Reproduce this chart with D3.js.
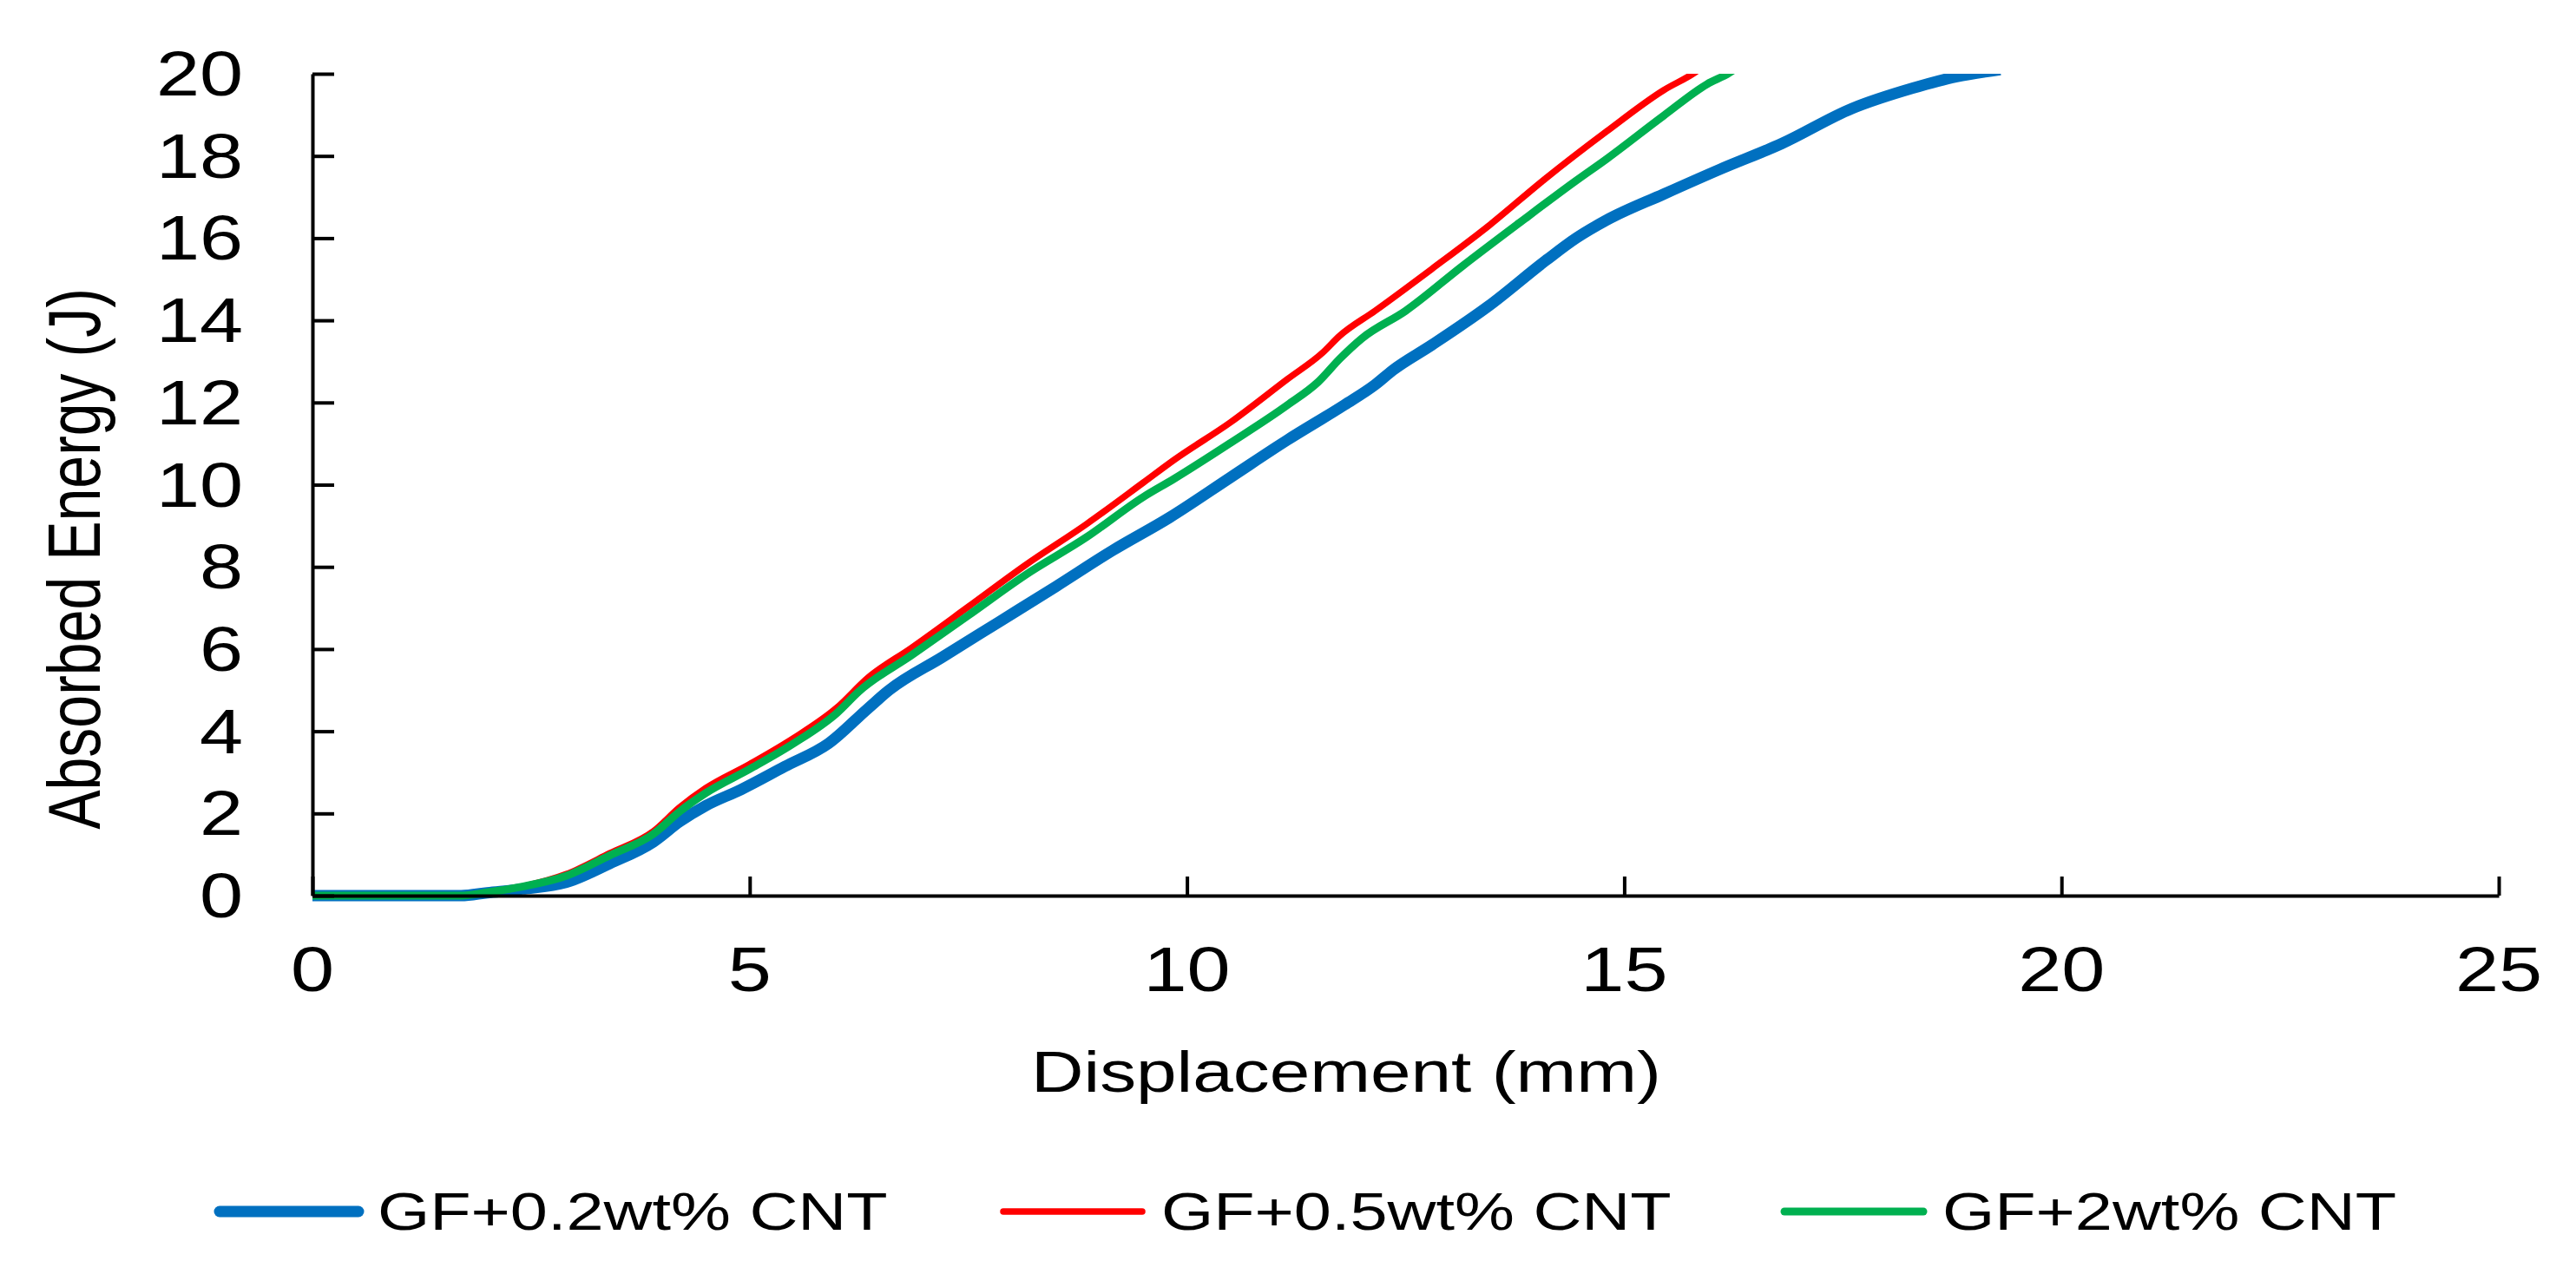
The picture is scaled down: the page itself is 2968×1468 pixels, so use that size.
<!DOCTYPE html>
<html>
<head>
<meta charset="utf-8">
<script src="https://cdn.jsdelivr.net/npm/d3@7"></script>
<style>
  body { margin: 0; background: #fff; }
  text { font-family: "Liberation Sans", Arial, sans-serif; fill: #000; }
</style>
</head>
<body>
<svg id="chart" width="2968" height="1468"></svg>
<script>
// tick values
const xTicks = [0, 5, 10, 15, 20, 25];
const yTicks = [0, 2, 4, 6, 8, 10, 12, 14, 16, 18, 20];

// series names / colours
const seriesNames = ["GF+0.2wt% CNT", "GF+0.5wt% CNT", "GF+2wt% CNT"];
const seriesColors = ["#0070C0", "#FF0000", "#00B050"];

// GF+0.2wt% CNT
const disp02 = [0, 1.7, 2.0, 2.4, 2.9, 3.4, 3.9, 4.2, 4.5, 4.9, 5.4, 5.9, 6.35, 6.6, 7.2, 7.85, 8.5, 9.15, 9.8, 10.5, 11.15, 11.8, 12.15, 12.35, 12.8, 13.45, 14.1, 14.45, 14.8, 15.45, 16.1, 16.8, 17.6, 18.3, 18.8, 19.3];
const energy02 = [0, 0, 0.07, 0.16, 0.32, 0.78, 1.31, 1.8, 2.19, 2.58, 3.14, 3.7, 4.55, 5.01, 5.8, 6.66, 7.52, 8.4, 9.2, 10.18, 11.09, 11.94, 12.43, 12.78, 13.4, 14.35, 15.45, 16.0, 16.44, 17.07, 17.68, 18.3, 19.15, 19.65, 19.93, 20.1];

// GF+0.5wt% CNT
const disp05 = [0, 1.7, 2.0, 2.4, 2.9, 3.4, 3.9, 4.2, 4.5, 5.0, 5.5, 6.0, 6.35, 6.85, 7.5, 8.15, 8.85, 9.5, 9.85, 10.5, 11.15, 11.55, 11.75, 12.15, 12.8, 13.45, 14.1, 14.8, 15.45, 15.8, 15.95];
const energy05 = [0, 0, 0.08, 0.22, 0.52, 1.03, 1.57, 2.15, 2.62, 3.2, 3.83, 4.58, 5.3, 6.03, 7.03, 8.04, 9.04, 10.05, 10.6, 11.52, 12.57, 13.21, 13.63, 14.23, 15.25, 16.3, 17.45, 18.6, 19.6, 20.02, 20.25];

// GF+2wt% CNT
const disp2 = [0, 1.7, 2.0, 2.4, 2.9, 3.4, 3.9, 4.2, 4.5, 5.0, 5.5, 6.0, 6.25, 6.85, 7.5, 8.15, 8.85, 9.5, 9.85, 10.5, 11.15, 11.5, 11.75, 12.0, 12.5, 13.15, 13.8, 14.45, 14.8, 15.45, 15.95, 16.2, 16.35];
const energy2 = [0, 0, 0.08, 0.22, 0.48, 0.98, 1.5, 2.05, 2.5, 3.08, 3.7, 4.45, 4.97, 5.85, 6.82, 7.8, 8.72, 9.7, 10.14, 11.02, 11.94, 12.5, 13.07, 13.56, 14.23, 15.32, 16.37, 17.4, 17.93, 18.98, 19.75, 20.02, 20.25];

const lineWidths = [13, 7.5, 9];
const stretch = 1.25; // text in the picture is a bit wider than plain Arial

const svg = d3.select("#chart");
const plot = { left: 360, right: 2879, top: 85, bottom: 1032 };

const x = d3.scaleLinear().domain([0, 25]).range([plot.left, plot.right]);
const y = d3.scaleLinear().domain([0, 20]).range([plot.bottom, plot.top]);

const series = [
  d3.zip(disp02, energy02),
  d3.zip(disp05, energy05),
  d3.zip(disp2, energy2)
];

svg.append("defs").append("clipPath").attr("id", "clip")
  .append("rect")
  .attr("x", plot.left).attr("y", plot.top)
  .attr("width", plot.right - plot.left + 20)
  .attr("height", plot.bottom - plot.top + 40);

const line = d3.line()
  .x(d => x(d[0]))
  .y(d => y(d[1]))
  .curve(d3.curveMonotoneX);

svg.append("g").attr("clip-path", "url(#clip)")
  .selectAll("path")
  .data(series)
  .join("path")
  .attr("d", line)
  .attr("fill", "none")
  .attr("stroke", (d, i) => seriesColors[i])
  .attr("stroke-width", (d, i) => lineWidths[i])
  .attr("stroke-linejoin", "round");

// axes
const yAxis = svg.append("g")
  .attr("transform", `translate(${plot.left},0)`)
  .call(d3.axisRight(y).tickValues(yTicks).tickSize(25).tickSizeOuter(0).tickFormat(""));
const xAxis = svg.append("g")
  .attr("transform", `translate(0,${plot.bottom})`)
  .call(d3.axisTop(x).tickValues(xTicks).tickSize(22).tickSizeOuter(0).tickFormat(""));
[yAxis, xAxis].forEach(a => {
  a.selectAll("path, line").attr("stroke", "#000").attr("stroke-width", 4);
});

// tick labels
svg.append("g").selectAll("text")
  .data(yTicks)
  .join("text")
  .attr("transform", d => `translate(280,${y(d) + 25}) scale(${stretch},1)`)
  .attr("text-anchor", "end")
  .attr("font-size", 72)
  .text(d => d);

svg.append("g").selectAll("text")
  .data(xTicks)
  .join("text")
  .attr("transform", d => `translate(${x(d)},1142) scale(${stretch},1)`)
  .attr("text-anchor", "middle")
  .attr("font-size", 72)
  .text(d => d);

// axis titles
svg.append("text")
  .attr("transform", `translate(1551,1258) scale(${stretch},1)`)
  .attr("text-anchor", "middle")
  .attr("font-size", 67)
  .text("Displacement (mm)");

svg.append("text")
  .attr("transform", `translate(115,644) scale(${stretch},1) rotate(-90)`)
  .attr("text-anchor", "middle")
  .attr("font-size", 68)
  .text("Absorbed Energy (J)");

// legend
const legendX = [253, 1156, 2056];
const legend = svg.append("g").selectAll("g")
  .data(seriesNames)
  .join("g");
legend.append("line")
  .attr("x1", (d, i) => legendX[i])
  .attr("x2", (d, i) => legendX[i] + 160)
  .attr("y1", 1396).attr("y2", 1396)
  .attr("stroke", (d, i) => seriesColors[i])
  .attr("stroke-width", (d, i) => lineWidths[i])
  .attr("stroke-linecap", "round");
legend.append("text")
  .attr("transform", (d, i) => `translate(${legendX[i] + 182},1417) scale(${stretch},1)`)
  .attr("font-size", 62)
  .text(d => d);
</script>
</body>
</html>
